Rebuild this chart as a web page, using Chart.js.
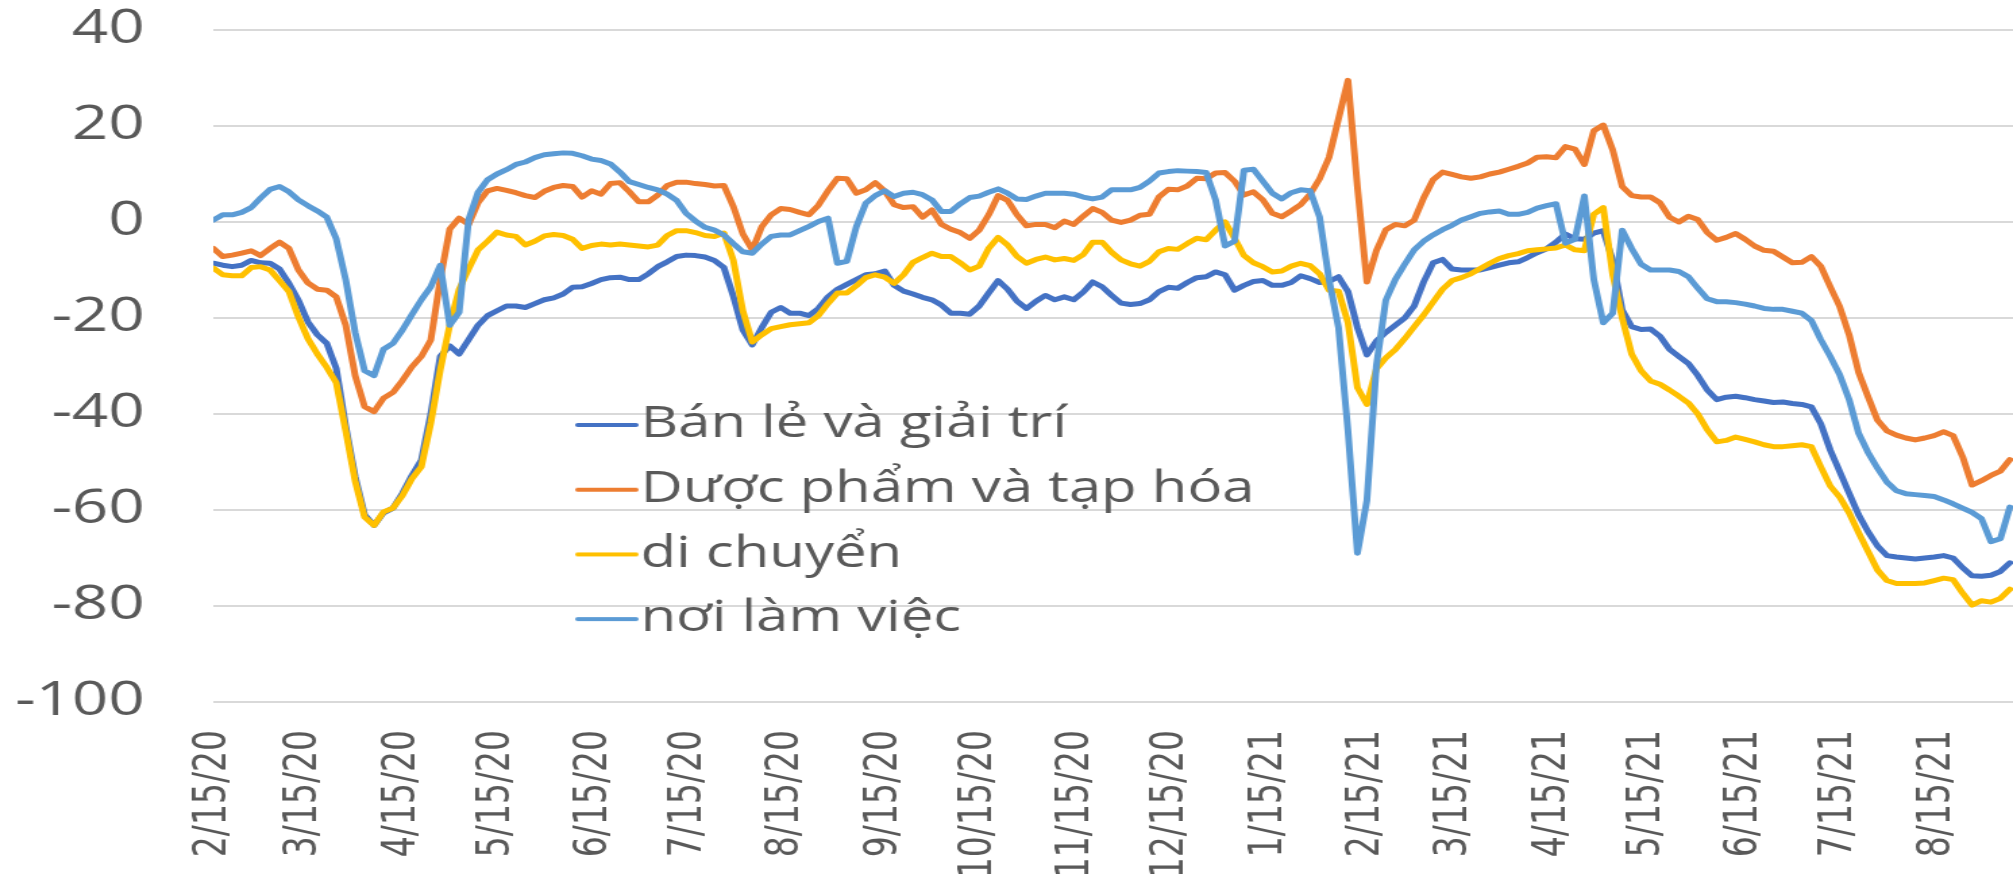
<!DOCTYPE html>
<html><head><meta charset="utf-8">
<script src="https://cdn.jsdelivr.net/npm/chart.js@4.4.1/dist/chart.umd.min.js"></script>
<style>
html,body{margin:0;padding:0;background:#fff;overflow:hidden;width:2013px;height:874px;}
#wrap{position:absolute;left:0;top:0;width:1491px;height:874px;transform:scaleX(1.35010);transform-origin:0 0;}
canvas{display:block;}
</style></head><body>
<div id="wrap"><canvas id="c" width="1491" height="874"></canvas></div>
<script>
const seriesNames = ['Bán lẻ và giải trí', 'Dược phẩm và tạp hóa', 'di chuyển', 'nơi làm việc'];
const seriesColors = ['#4472C4', '#ED7D31', '#FFC000', '#5B9BD5'];
const startDate = '2020-02-15';
const stepDays = 3;
const tickLabels = ['2/15/20','3/15/20','4/15/20','5/15/20','6/15/20','7/15/20','8/15/20','9/15/20','10/15/20','11/15/20','12/15/20','1/15/21','2/15/21','3/15/21','4/15/21','5/15/21','6/15/21','7/15/21','8/15/21'];

const retail = [
-8.6,-9.0,-9.3,-9.0,-8.0,-8.5,-8.6,-9.8,-12.8,-16.3,
-20.8,-23.5,-25.3,-30.5,-42.5,-53,-61,-63.2,-60.6,-59.6,
-56.5,-52.8,-49.6,-40,-28,-25.8,-27.5,-24.5,-21.5,-19.5,
-18.5,-17.5,-17.5,-17.8,-17,-16.2,-15.8,-15,-13.6,-13.5,
-12.8,-12,-11.6,-11.5,-12,-12,-10.8,-9.3,-8.3,-7.2,
-6.9,-7.0,-7.3,-8.0,-9.5,-15.5,-22.5,-25.6,-22,-18.8,
-17.8,-19,-19,-19.5,-18,-15.6,-14,-13,-12,-11,
-10.8,-10.2,-13.2,-14.4,-15,-15.7,-16.2,-17.3,-19,-19,
-19.2,-17.5,-14.8,-12.2,-14,-16.5,-18,-16.5,-15.3,-16.2,
-15.6,-16.2,-14.6,-12.5,-13.5,-15.3,-16.9,-17.2,-17,-16.2,
-14.5,-13.6,-13.8,-12.6,-11.6,-11.4,-10.4,-11,-14.2,-13.2,
-12.4,-12.2,-13.2,-13.2,-12.6,-11.2,-11.8,-12.6,-12.4,-11.4,
-14.5,-22,-27.7,-24.8,-23,-21.5,-20,-17.5,-12.5,-8.5,
-7.8,-9.8,-10,-10,-10,-9.5,-9,-8.5,-8.3,-7.4,
-6.4,-5.6,-4.2,-2.5,-3.5,-3.6,-2.3,-1.8,-8,-18.3,
-21.8,-22.4,-22.3,-23.8,-26.5,-28,-29.5,-32,-35,-37,
-36.5,-36.3,-36.6,-37,-37.3,-37.6,-37.5,-37.8,-38,-38.5,
-42,-47.5,-52,-56.5,-61,-64.5,-67.5,-69.5,-69.8,-70,
-70.2,-70,-69.8,-69.5,-70,-72,-73.7,-73.8,-73.6,-72.8,
-71];

const grocery = [
-5.5,-7.2,-6.9,-6.5,-6,-7,-5.5,-4.2,-5.5,-10,
-12.7,-14,-14.2,-15.6,-21.5,-32,-38.5,-39.5,-36.7,-35.5,
-33,-30.2,-28,-24.6,-12,-1.5,0.8,-0.5,4,6.5,
7,6.6,6.1,5.5,5.1,6.4,7.2,7.6,7.4,5.2,
6.5,5.8,8,8.2,6.3,4.2,4.2,5.6,7.6,8.3,
8.3,8,7.8,7.5,7.6,3.2,-2.5,-5.8,-1,1.5,
2.8,2.6,2,1.5,3.5,6.5,9.1,9,6,6.7,
8.2,6.5,3.6,3,3.2,1,2.5,-0.5,-1.5,-2.2,
-3.4,-1.7,1.5,5.5,4.5,1.5,-0.8,-0.5,-0.5,-1.2,
0.2,-0.5,1.2,2.8,2,0.4,-0.1,0.4,1.4,1.6,
5.2,6.8,6.7,7.5,9.1,9,10.2,10.3,8.5,5.6,
6.3,4.6,1.8,1.1,2.3,3.6,5.8,9,13.5,21.5,
29.5,7.3,-12.5,-6,-1.6,-0.5,-0.8,0.4,5,8.8,
10.4,9.9,9.4,9.1,9.4,10,10.4,11,11.6,12.3,
13.5,13.6,13.4,15.7,15.2,12,19,20.2,15,7.4,
5.5,5.2,5.2,4,1,0,1.2,0.5,-2.2,-3.8,
-3.2,-2.4,-3.6,-5,-5.9,-6.1,-7.3,-8.5,-8.4,-7.2,
-9.2,-13.5,-17.6,-23.5,-31.3,-36.4,-41.3,-43.5,-44.4,-45,
-45.4,-45,-44.5,-43.7,-44.5,-48.9,-54.8,-53.9,-52.8,-51.9,
-49.5];

const transit = [
-9.6,-11,-11.2,-11.2,-9.5,-9.3,-10,-12.2,-14.5,-19.8,
-24.3,-27.5,-30.3,-33.5,-43.5,-54,-61.5,-63.2,-60.4,-59.6,
-57,-53.5,-51,-41.9,-30.8,-21.5,-14,-9.8,-5.8,-4,
-2.1,-2.7,-3,-4.8,-4,-2.9,-2.6,-2.8,-3.6,-5.5,
-4.9,-4.6,-4.8,-4.6,-4.8,-5,-5.2,-4.8,-2.8,-1.8,
-1.8,-2.2,-2.8,-3,-2.3,-8,-18.5,-25,-23.5,-22.2,
-21.8,-21.4,-21.2,-21,-19.5,-17,-14.8,-14.8,-13.3,-11.6,
-11,-11.5,-12.8,-11,-8.4,-7.4,-6.5,-7.2,-7.2,-8.5,
-10,-9.2,-5.5,-3.2,-4.8,-7.2,-8.6,-7.8,-7.3,-7.9,
-7.6,-8,-6.8,-4.2,-4.2,-6.3,-7.9,-8.7,-9.2,-8.2,
-6.2,-5.5,-5.7,-4.5,-3.4,-3.7,-1.7,0,-3.4,-7,
-8.5,-9.3,-10.4,-10.2,-9.2,-8.6,-9.1,-10.8,-14.2,-14.4,
-21,-34.5,-38,-30.6,-28.3,-26.6,-24.3,-21.8,-19.4,-16.7,
-14,-12.2,-11.6,-10.8,-9.7,-8.6,-7.6,-7,-6.6,-6,
-5.8,-5.6,-5.4,-4.8,-5.8,-6,1.6,3,-11,-20,
-27.5,-31,-33.1,-33.8,-35,-36.3,-37.7,-40,-43.3,-45.8,
-45.5,-44.8,-45.3,-45.8,-46.4,-46.8,-46.8,-46.6,-46.4,-46.8,
-51,-55,-57.3,-60.6,-64.7,-68.6,-72.5,-74.7,-75.3,-75.3,
-75.3,-75.2,-74.7,-74.2,-74.5,-77.3,-79.8,-78.9,-79.2,-78.4,
-76.5];

const workplace = [
0.4,1.5,1.5,2,3,5,6.8,7.4,6.3,4.6,
3.4,2.3,1,-3.5,-12,-23,-31,-32,-26.5,-25.3,
-22.5,-19.3,-16.2,-13.5,-9,-21.5,-18.8,0.5,6.2,8.8,
10,10.9,12,12.5,13.4,14,14.2,14.4,14.3,13.8,
13.1,12.8,12.1,10.4,8.4,7.8,7.2,6.7,5.8,4.5,
1.8,0.2,-1.1,-1.7,-2.7,-4.5,-6.2,-6.5,-4.6,-3,
-2.7,-2.7,-1.8,-0.9,0.1,0.8,-8.6,-8.2,-1,3.9,
5.5,6.5,5.3,6,6.2,5.7,4.6,2.2,2.2,3.8,
5.1,5.4,6.2,6.9,6,4.8,4.7,5.4,6,6,
6,5.8,5.2,4.8,5.2,6.7,6.7,6.7,7.2,8.5,
10.2,10.5,10.7,10.6,10.5,10.3,4.6,-5,-4,10.8,
11,8.5,6,4.8,6.1,6.7,6.5,1,-12,-22,
-43.5,-69,-58,-30,-16.3,-12,-8.8,-5.8,-4,-2.7,
-1.6,-0.7,0.4,1.1,1.8,2.1,2.3,1.6,1.6,2,
2.9,3.4,3.8,-4.4,-3.6,5.4,-12,-21,-19,-1.7,
-5.5,-8.8,-10,-10,-10,-10.3,-11.4,-13.8,-16,-16.6,
-16.6,-16.8,-17.1,-17.5,-18,-18.2,-18.2,-18.6,-19,-20.5,
-24.5,-28,-31.8,-37,-44,-48,-51.3,-54.2,-56,-56.6,
-56.8,-57,-57.2,-57.9,-58.7,-59.6,-60.5,-61.8,-66.6,-66,
-59.4];

const allSeries = [retail, grocery, transit, workplace];
if (!allSeries.every(s => s.length === retail.length)) {
  throw new Error('series lengths differ: ' + allSeries.map(s => s.length).join(','));
}

const DAY = 86400000;
const day0 = Date.parse(startDate + 'T00:00:00Z');
const dates = retail.map((_, i) => new Date(day0 + i * stepDays * DAY).toISOString().slice(0, 10));
const dayOfIso = iso => Math.round((Date.parse(iso + 'T00:00:00Z') - day0) / DAY);
const dayOfLabel = lbl => {
  const [m, d, y] = lbl.split('/').map(Number);
  return Math.round((Date.UTC(2000 + y, m - 1, d) - day0) / DAY);
};
const tickDays = tickLabels.map(dayOfLabel);
const toPoints = vals => vals.map((v, i) => ({ x: dayOfIso(dates[i]), y: v }));

// legend swatch: a short thick line, drawn so that it ends right before the text
function legendSwatch(color) {
  const c = document.createElement('canvas');
  c.width = 82; c.height = 8;
  const g = c.getContext('2d');
  g.strokeStyle = color; g.lineWidth = 4; g.lineCap = 'round';
  g.beginPath(); g.moveTo(37, 4); g.lineTo(80, 4); g.stroke();
  return c;
}

const legendPlacer = {
  id: 'legendPlacer',
  afterLayout(chart) {
    const lg = chart.legend;
    if (!lg) return;
    const w = lg.width;
    lg.left = 389.3;
    lg.top = 381.8;
    lg.right = lg.left + w;
    lg.bottom = chart.chartArea.bottom;
  }
};

const drawOrder = [4, 3, 2, 1];
new Chart(document.getElementById('c'), {
  type: 'line',
  data: {
    datasets: allSeries.map((s, i) => ({
      label: seriesNames[i],
      data: toPoints(s),
      borderColor: seriesColors[i],
      backgroundColor: seriesColors[i],
      pointStyle: legendSwatch(seriesColors[i]),
      order: drawOrder[i]
    }))
  },
  options: {
    responsive: false,
    animation: false,
    devicePixelRatio: 1,
    layout: { padding: { top: 30, left: 0, right: 0, bottom: 0 } },
    elements: {
      point: { radius: 0, hoverRadius: 0 },
      line: { borderWidth: 5, tension: 0, borderJoinStyle: 'round', borderCapStyle: 'round', fill: false }
    },
    plugins: {
      tooltip: { enabled: false },
      title: { display: false },
      legend: {
        position: 'chartArea',
        align: 'start',
        labels: {
          usePointStyle: true,
          pointStyleWidth: 42,
          boxWidth: 42,
          padding: 21.7,
          color: '#595959',
          font: { family: 'Open Sans', size: 43 },
          sort: (a, b) => a.datasetIndex - b.datasetIndex
        }
      }
    },
    scales: {
      x: {
        type: 'linear',
        min: 0,
        max: 571,
        grid: { display: false },
        border: { display: false },
        afterBuildTicks: s => { s.ticks = tickDays.map(v => ({ value: v })); },
        afterFit: s => { s.height = 172; s.paddingLeft = 0; s.paddingRight = 0; },
        ticks: {
          autoSkip: false,
          minRotation: 90,
          maxRotation: 90,
          padding: 20,
          color: '#595959',
          font: { family: 'DejaVu Sans', size: 33 },
          callback: v => { const k = tickDays.indexOf(v); return k >= 0 ? tickLabels[k] : ''; }
        }
      },
      y: {
        min: -100,
        max: 40,
        grid: { color: '#D9D9D9', lineWidth: 2, drawTicks: false },
        border: { display: false },
        afterFit: s => { s.width = 158; s.paddingTop = 0; s.paddingBottom = 0; },
        ticks: {
          stepSize: 20,
          padding: 51,
          color: '#595959',
          font: { family: 'Open Sans', size: 47 }
        }
      }
    }
  },
  plugins: [legendPlacer]
});
</script>
</body></html>
